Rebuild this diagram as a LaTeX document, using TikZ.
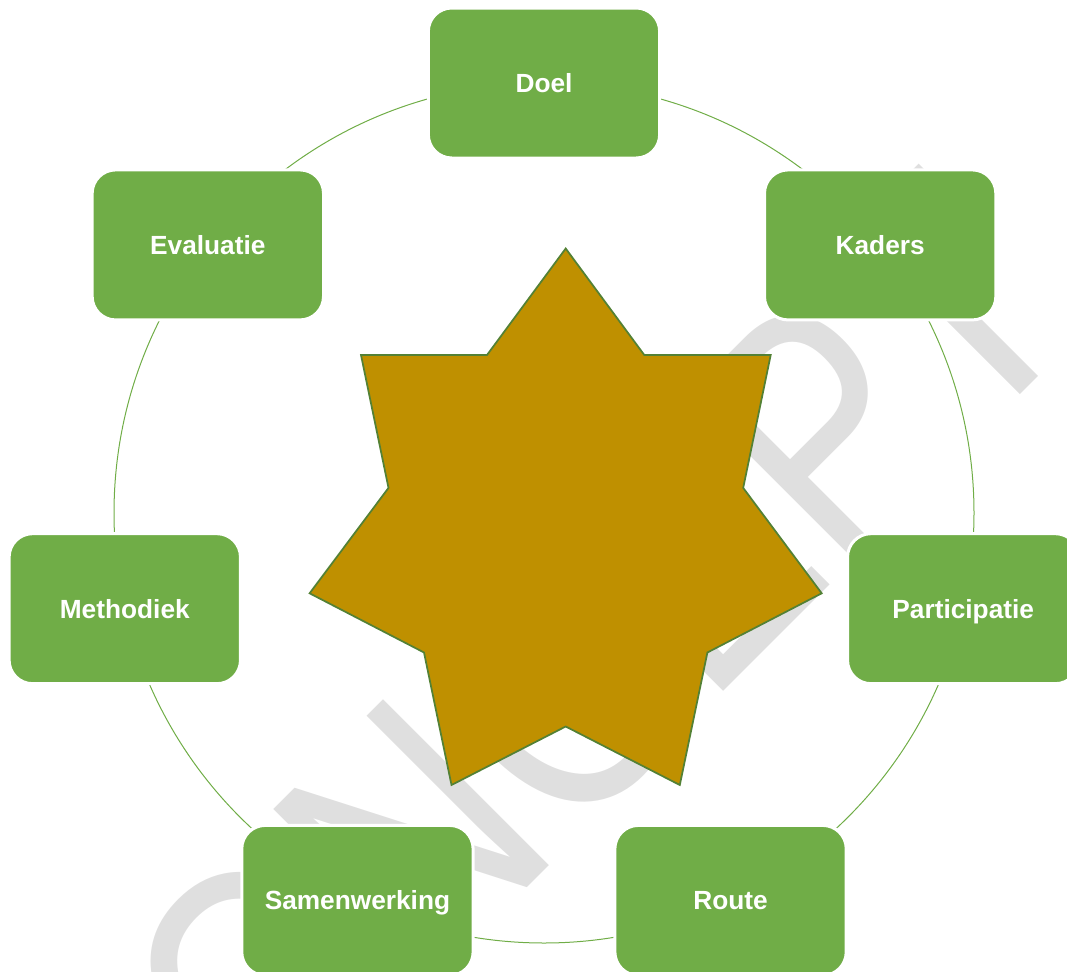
\documentclass[tikz,border=0pt]{standalone}
\usepackage{fontspec}
\setmainfont{Liberation Sans}
\usetikzlibrary{calc}
\definecolor{boxgreen}{HTML}{70AD47}
\definecolor{stargold}{HTML}{BF9000}
\definecolor{starline}{HTML}{538135}
\definecolor{wmgray}{HTML}{DFDFDF}
\tikzset{
  stepbox/.style={rectangle, rounded corners=17.6pt, fill=boxgreen, draw=white,
    line width=2.25pt, minimum width=173.5pt, minimum height=112.5pt, inner sep=0pt,
    text=white, font=\fontsize{19.7pt}{23pt}\selectfont\bfseries,
    text height=14.1pt, text depth=0pt},
  ring/.style={draw=boxgreen, line width=0.75pt},
  startshape/.style={fill=stargold, draw=starline, line width=1.3pt},
  watermark/.style={anchor=base west, rotate=45, inner sep=0pt, text=wmgray,
    font=\fontsize{255.75pt}{256pt}\selectfont}
}
\begin{document}
\begin{tikzpicture}[x=0.75pt,y=-0.75pt]
\useasboundingbox (0,0) rectangle (1067,971);
% watermark
\node[watermark] (wm) at (128.4,1286.6) {\scalebox{0.815}[1]{CONCEPT}};
% ring
\coordinate (ctr) at (544,513);
\draw[ring] (ctr) circle[radius=430];
% boxes
\node[stepbox] (doel) at ($(ctr)+(-90:430)$) {Doel};
\node[stepbox] (kaders) at ($(ctr)+(-38.571:430)$) {Kaders};
\node[stepbox] (participatie) at ($(ctr)+(12.857:430)$) {Participatie};
\node[stepbox] (route) at ($(ctr)+(64.286:430)$) {Route};
\node[stepbox] (samenwerking) at ($(ctr)+(115.714:430)$) {Samenwerking};
\node[stepbox] (methodiek) at ($(ctr)+(167.143:430)$) {Methodiek};
\node[stepbox] (evaluatie) at ($(ctr)+(218.571:430)$) {Evaluatie};
% star
\draw[startshape] (565.7,248.5) -- (644.3,355) -- (770.7,355) -- (743.2,487.9)
  -- (821.7,593.3) -- (707.4,652.5) -- (679.8,785) -- (565.7,726.5)
  -- (451.5,785) -- (424,652.5) -- (309.6,593.3) -- (388.5,487.9)
  -- (361,355) -- (487,355) -- cycle;
\end{tikzpicture}
\end{document}
